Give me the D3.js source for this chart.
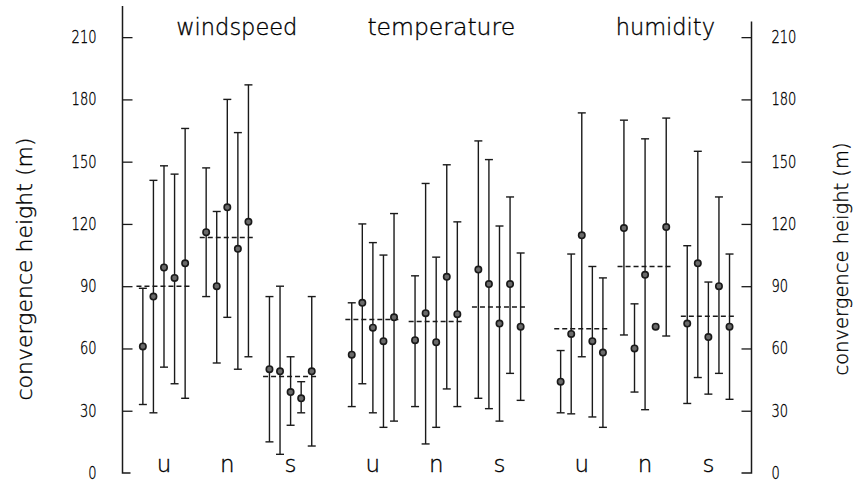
<!DOCTYPE html>
<html>
<head>
<meta charset="utf-8">
<script src="https://cdn.jsdelivr.net/npm/d3@7"></script>
<style>
  html, body { margin: 0; padding: 0; background: #fff; }
  svg { display: block; }
  text { font-family: "DejaVu Sans", "Liberation Sans", sans-serif; fill: #000; stroke: #000; stroke-width: 0.35px; -webkit-font-smoothing: antialiased; }
</style>
</head>
<body>
<div id="chart"></div>
<script>
// ---------------- data ----------------
const variables = ["windspeed", "temperature", "humidity"];
const groups = ["u", "n", "s"];
const yTicks = [0, 30, 60, 90, 120, 150, 180, 210];

// 15 values per variable: 5 members for each of u, n, s
const windspeedMean = [61, 85, 99, 94, 101,   116, 90, 128, 108, 121,   50, 49, 39, 36, 49];
const windspeedLow  = [33, 29, 51, 43, 36,    85, 53, 75, 50, 56,       15, 9, 23, 29, 13];
const windspeedHigh = [89, 141, 148, 144, 166, 147, 126, 180, 164, 187,  85, 90, 56, 44, 85];
const windspeedGroupMean = [90, 113.5, 46.5];

const temperatureMean = [57, 82, 70, 63.5, 75,   64, 77, 63, 94.5, 76.5,   98, 91, 72, 91, 70.5];
const temperatureLow  = [32, 43, 29, 22, 25,     32, 14, 22, 40.5, 32,     36, 31, 25, 48, 35];
const temperatureHigh = [82, 120, 111, 105, 125, 95, 139.5, 104, 148.5, 121, 160, 151, 119, 133, 106];
const temperatureGroupMean = [74, 73, 80];

const humidityMean = [44, 67, 114.5, 63.5, 58,   118, 60, 95.5, 70.5, 118.5,  72, 101, 65.5, 90, 70.5];
const humidityLow  = [29, 28.5, 56, 27, 22,      66.5, 39, 30.5, null, 66,    33.5, 46, 38, 48, 35.5];
const humidityHigh = [59, 105.5, 173.5, 99.5, 94, 170, 81.5, 161, null, 171,  109.5, 155, 92, 133, 105.5];
const humidityGroupMean = [69.5, 99.5, 75.5];

const seriesMean = [windspeedMean, temperatureMean, humidityMean];
const seriesLow = [windspeedLow, temperatureLow, humidityLow];
const seriesHigh = [windspeedHigh, temperatureHigh, humidityHigh];
const seriesGroupMean = [windspeedGroupMean, temperatureGroupMean, humidityGroupMean];

// ---------------- layout ----------------
const W = 862, H = 484;
const svg = d3.select("#chart").append("svg").attr("width", W).attr("height", H);

const y = d3.scaleLinear().domain([0, 225]).range([473, 6]);
// x in "group units": one unit = distance between neighbouring groups
const x = d3.scaleLinear().domain([0, 1]).range([164, 227.3]);
const varStep = 3.3, memberStep = 0.167, meanHalf = 0.435;
const titleOffset = [1.15, 1.08, 1.32];

const leftX = 122.5, rightX = 751.5;
const ink = "#1a1a1a";

// table of points
const points = [];
variables.forEach((v, vi) => {
  for (let k = 0; k < 15; k++) {
    const gi = Math.floor(k / 5), mi = k % 5;
    points.push({
      pos: vi * varStep + gi + (mi - 2) * memberStep,
      mean: seriesMean[vi][k], lo: seriesLow[vi][k], hi: seriesHigh[vi][k]
    });
  }
});
const groupMeans = [];
variables.forEach((v, vi) => groups.forEach((g, gi) => {
  groupMeans.push({ pos: vi * varStep + gi, value: seriesGroupMean[vi][gi], label: g });
}));

// ---------------- axes ----------------
const leftAxis = d3.axisLeft(y).tickValues(yTicks)
  .tickSize(-10).tickSizeOuter(0).tickPadding(26);
const gl = svg.append("g").attr("transform", `translate(${leftX},0)`).call(leftAxis);
const rightAxis = d3.axisRight(y).tickValues(yTicks)
  .tickSize(-10).tickSizeOuter(0).tickPadding(20);
const gr = svg.append("g").attr("transform", `translate(${rightX},0)`).call(rightAxis);

[gl, gr].forEach(g => {
  g.select(".domain").remove();
  g.selectAll(".tick line").attr("stroke", ink).attr("stroke-width", 1.3)
    .filter(d => d === 0).remove();
  g.selectAll(".tick text")
    .attr("font-size", 17).attr("font-weight", 200)
    .attr("textLength", d => String(d).length * 8.3)
    .attr("lengthAdjust", "spacingAndGlyphs");
});

// axis lines with bottom stubs
svg.append("path")
  .attr("d", `M${leftX},${y(225)}V${y(0)}H${leftX + 8}`)
  .attr("fill", "none").attr("stroke", ink).attr("stroke-width", 1.5);
svg.append("path")
  .attr("d", `M${rightX},${y(217.5)}V${y(0)}H${rightX - 10}`)
  .attr("fill", "none").attr("stroke", ink).attr("stroke-width", 1.5);

// axis titles
svg.append("text").attr("transform", `translate(32,269) rotate(-90)`)
  .attr("text-anchor", "middle").attr("font-size", 22).attr("font-weight", 200)
  .text("convergence height (m)");
svg.append("text").attr("transform", `translate(848,259) rotate(-90)`)
  .attr("text-anchor", "middle").attr("font-size", 19.5).attr("font-weight", 200)
  .text("convergence height (m)");

// variable titles
variables.forEach((v, vi) => {
  svg.append("text").attr("x", x(vi * varStep + titleOffset[vi])).attr("y", 35)
    .attr("text-anchor", "middle").attr("font-size", vi === 1 ? 23.5 : 22.5).attr("font-weight", 200)
    .text(v);
});
// group labels
svg.selectAll("text.grp").data(groupMeans).join("text").attr("class", "grp")
  .attr("x", d => x(d.pos)).attr("y", 472)
  .attr("text-anchor", "middle").attr("font-size", 23).attr("font-weight", 200)
  .text(d => d.label);

// ---------------- marks ----------------
const bars = points.filter(d => d.lo != null && d.hi != null);
const cap = 4;
const eb = svg.append("g").attr("stroke", ink).attr("stroke-width", 1.4).attr("fill", "none");
eb.selectAll("line.v").data(bars).join("line").attr("class", "v")
  .attr("x1", d => x(d.pos)).attr("x2", d => x(d.pos))
  .attr("y1", d => y(d.lo)).attr("y2", d => y(d.hi));
eb.selectAll("line.t").data(bars).join("line").attr("class", "t")
  .attr("x1", d => x(d.pos) - cap).attr("x2", d => x(d.pos) + cap)
  .attr("y1", d => y(d.hi)).attr("y2", d => y(d.hi));
eb.selectAll("line.b").data(bars).join("line").attr("class", "b")
  .attr("x1", d => x(d.pos) - cap).attr("x2", d => x(d.pos) + cap)
  .attr("y1", d => y(d.lo)).attr("y2", d => y(d.lo));

svg.append("g").selectAll("line").data(groupMeans).join("line")
  .attr("x1", d => x(d.pos - meanHalf)).attr("x2", d => x(d.pos + meanHalf))
  .attr("y1", d => y(d.value)).attr("y2", d => y(d.value))
  .attr("stroke", ink).attr("stroke-width", 1.5).attr("stroke-dasharray", "5,3");

svg.append("g").selectAll("circle").data(points).join("circle")
  .attr("cx", d => x(d.pos)).attr("cy", d => y(d.mean)).attr("r", 3.2)
  .attr("fill", "#6a6a6a").attr("stroke", ink).attr("stroke-width", 1.6);
</script>
</body>
</html>
